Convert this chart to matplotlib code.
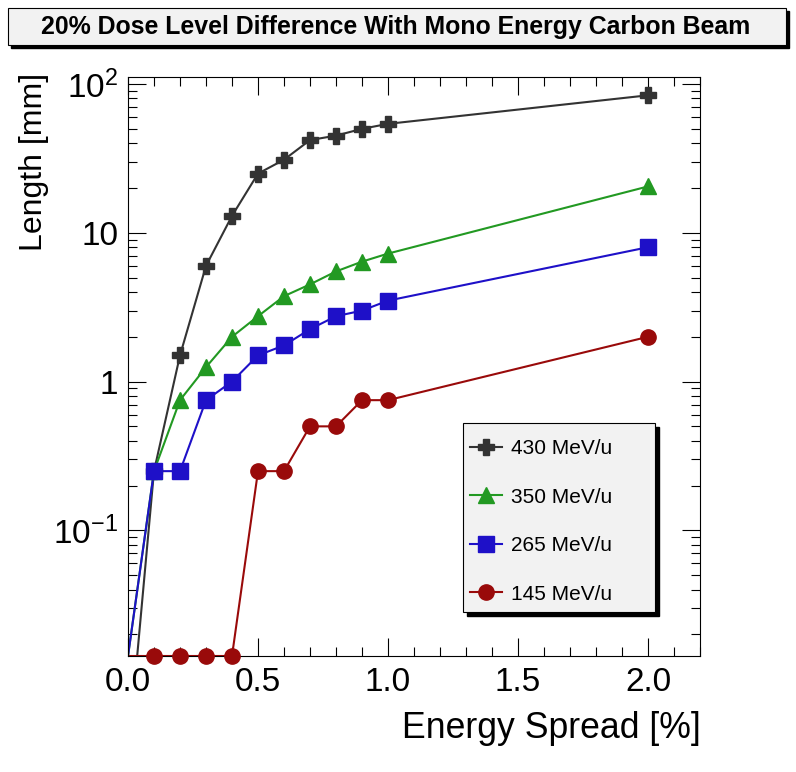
import matplotlib
matplotlib.use('Agg')
import matplotlib.pyplot as plt
import matplotlib.ticker as mticker
from matplotlib.patches import Rectangle
import numpy as np

plt.rcParams['font.family'] = ['Liberation Sans', 'DejaVu Sans']
plt.rcParams['mathtext.fontset'] = 'custom'
plt.rcParams['mathtext.rm'] = 'Liberation Sans'

# energy spread [%]
spread = [0.0, 0.1, 0.2, 0.3, 0.4, 0.5, 0.6, 0.7, 0.8, 0.9, 1.0, 2.0]
# length [mm] per beam energy (0 = no length)
len_430 = [0.003, 0.25, 1.5, 6.0, 13.0, 25.0, 31.0, 42.0, 45.0, 50.0, 54.0, 84.0]
len_350 = [0.0, 0.25, 0.75, 1.25, 2.0, 2.75, 3.75, 4.5, 5.5, 6.4, 7.25, 20.5]
len_265 = [0.0, 0.25, 0.25, 0.75, 1.0, 1.5, 1.75, 2.25, 2.75, 3.0, 3.5, 8.0]
len_145 = [0.0, 0.0, 0.0, 0.0, 0.0, 0.25, 0.25, 0.5, 0.5, 0.75, 0.75, 2.0]

labels = ['430 MeV/u', '350 MeV/u', '265 MeV/u', '145 MeV/u']
colors = ['#333333', '#229922', '#1e10c8', '#990a0a']
markers = ['P', '^', 's', 'o']

ymin, ymax = 0.0143, 111
W, H = 796, 772

fig = plt.figure(figsize=(W / 100, H / 100), dpi=100)
ax = fig.add_axes([128 / W, 1 - 656 / H, 572 / W, (656 - 77.3) / H])

x = np.array(spread)
handles = []
for y, lab, c, m in zip([len_430, len_350, len_265, len_145], labels, colors, markers):
    y = np.array(y)
    # zero values sit on the bottom of the frame, like ROOT does
    yp = np.where(y > 0, y, ymin)
    ln, = ax.plot(x, yp, color=c, lw=1.5, zorder=2)
    sel = x > 0
    mk, = ax.plot(x[sel], yp[sel], ls='none', marker=m, ms=11, color=c,
                  mec=c, clip_on=False, zorder=3)
    handles.append((ln, mk))

ax.set_yscale('log')
ax.set_xlim(0, 2.2)
ax.set_ylim(ymin, ymax)

ax.xaxis.set_major_locator(mticker.MultipleLocator(0.5))
ax.xaxis.set_minor_locator(mticker.MultipleLocator(0.1))
ax.xaxis.set_major_formatter(mticker.FormatStrFormatter('%.1f'))
ax.yaxis.set_major_locator(mticker.FixedLocator([0.1, 1, 10, 100]))
ax.yaxis.set_major_formatter(mticker.FixedFormatter(
    [r'$\mathdefault{10^{-1}}$', '1', '10', r'$\mathdefault{10^{2}}$']))
ax.yaxis.set_minor_locator(mticker.LogLocator(base=10, subs=np.arange(2, 10), numticks=20))
ax.yaxis.set_minor_formatter(mticker.NullFormatter())

ax.tick_params(which='both', direction='in', top=True, right=True, width=0.8, labelsize=24)
ax.tick_params(which='major', length=13)
ax.tick_params(which='minor', length=6.5)
ax.tick_params(axis='x', pad=8)
ax.tick_params(axis='y', pad=7)
for s in ax.spines.values():
    s.set_linewidth(0.8)

fig.text(34 / W, 1 - 73 / H, 'Length [mm]', rotation=90, ha='center', va='top', fontsize=23)
fig.text(701 / W, 1 - 711 / H, 'Energy Spread [%]', ha='right', va='top', fontsize=25.7)

# title box with shadow
fig.patches.append(Rectangle((11 / W, 1 - 48 / H), 778 / W, 37 / H, transform=fig.transFigure,
                             facecolor='black', edgecolor='black', zorder=0))
fig.patches.append(Rectangle((8 / W, 1 - 45 / H), 778 / W, 37 / H, transform=fig.transFigure,
                             facecolor='#f2f2f2', edgecolor='black', lw=0.8, zorder=1))
fig.text(396 / W, 1 - 27 / H, '20% Dose Level Difference With Mono Energy Carbon Beam',
         ha='center', va='center', fontsize=17.9, fontweight='bold')

# legend box with shadow
ax.add_patch(Rectangle((467 / W, 1 - 616 / H), 192 / W, 189 / H, transform=fig.transFigure,
                       facecolor='black', edgecolor='black', zorder=5, clip_on=False))
ax.add_patch(Rectangle((463 / W, 1 - 612 / H), 192 / W, 189 / H, transform=fig.transFigure,
                       facecolor='#f2f2f2', edgecolor='black', lw=0.8, zorder=6, clip_on=False))
leg = ax.legend(handles, labels, loc='upper left', bbox_to_anchor=(470 / W, 1 - 439 / H),
                bbox_transform=fig.transFigure, frameon=False, borderpad=0, borderaxespad=0,
                fontsize=15, labelspacing=1.42, handlelength=1.54, handletextpad=0.42,
                numpoints=1)
leg.set_zorder(7)

fig.savefig('out.png', dpi=100)
